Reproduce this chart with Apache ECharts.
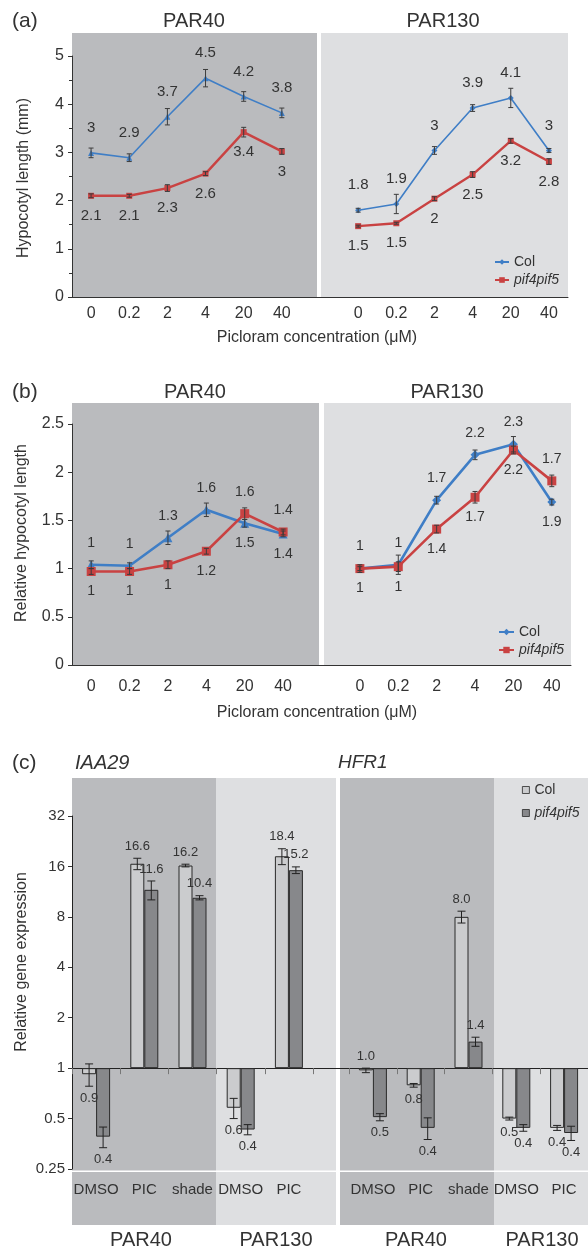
<!DOCTYPE html>
<html>
<head>
<meta charset="utf-8">
<title>Picloram response of Col and pif4pif5</title>
<script src="https://cdn.jsdelivr.net/npm/echarts@6/dist/echarts.min.js"></script>
<style>
  html, body { margin: 0; padding: 0; background: #ffffff; }
  #chart { width: 588px; height: 1251px; }
</style>
</head>
<body>
<div id="chart"></div>
<script>
// ---------- data ----------
const doses = ['0', '0.2', '2', '4', '20', '40'];

// (a) hypocotyl length, mm
const lengthColPAR40 = [2.99, 2.89, 3.74, 4.54, 4.16, 3.82];
const lengthColPAR130 = [1.80, 1.93, 3.04, 3.92, 4.13, 3.04];
const lengthPifPAR40 = [2.10, 2.10, 2.26, 2.56, 3.42, 3.02];
const lengthPifPAR130 = [1.47, 1.53, 2.04, 2.54, 3.24, 2.81];
const lengthColErrPAR40 = [0.10, 0.08, 0.17, 0.18, 0.10, 0.10];
const lengthColErrPAR130 = [0.04, 0.20, 0.08, 0.07, 0.20, 0.04];
const lengthPifErrPAR40 = [0.04, 0.03, 0.07, 0.04, 0.10, 0.06];
const lengthPifErrPAR130 = [0.02, 0.02, 0.04, 0.06, 0.05, 0.06];

// (b) hypocotyl length relative to the untreated seedlings
const relColPAR40 = [1.04, 1.03, 1.32, 1.61, 1.47, 1.36];
const relColPAR130 = [1.00, 1.04, 1.71, 2.18, 2.29, 1.69];
const relPifPAR40 = [0.97, 0.97, 1.04, 1.18, 1.57, 1.38];
const relPifPAR130 = [1.00, 1.02, 1.41, 1.74, 2.23, 1.91];
const relColErrPAR40 = [0.04, 0.03, 0.07, 0.07, 0.04, 0.03];
const relColErrPAR130 = [0.02, 0.10, 0.04, 0.05, 0.08, 0.03];
const relPifErrPAR40 = [0.03, 0.03, 0.04, 0.03, 0.06, 0.03];
const relPifErrPAR130 = [0.04, 0.05, 0.04, 0.06, 0.04, 0.06];

// (c) relative gene expression (PAR40: DMSO, PIC, shade | PAR130: DMSO, PIC)
const treatments = ['DMSO', 'PIC', 'shade', 'DMSO', 'PIC'];
const iaa29Col = [0.92, 16.6, 16.2, 0.58, 18.4];
const iaa29Pif = [0.39, 11.6, 10.4, 0.43, 15.2];
const iaa29ColErr = [0.14, 1.3, 0.3, 0.08, 2.0];
const iaa29PifErr = [0.055, 1.5, 0.3, 0.03, 0.7];
const hfr1Col = [0.97, 0.79, 8.0, 0.50, 0.44];
const hfr1Pif = [0.51, 0.44, 1.44, 0.44, 0.41];
const hfr1ColErr = [0.03, 0.02, 0.65, 0.01, 0.015];
const hfr1PifErr = [0.025, 0.065, 0.09, 0.02, 0.04];
const expressionTicks = [0.25, 0.5, 1, 2, 4, 8, 16, 32];

// ---------- styling ----------
const FONT = '"Liberation Sans", Arial, Helvetica, sans-serif';
const INK = '#333333';
const BLUE = '#3f7ec6';
const RED = '#c94242';
const DARK_BG = '#babbbe';
const LIGHT_BG = '#dedfe1';
const BAR_COL = '#cbccce';
const BAR_PIF = '#87888b';
const BAR_W = 14;

// ---------- helpers ----------
const slotCats = [...doses, '', ...doses];          // PAR40 | gap | PAR130
const PAR130_START = doses.length + 1;
const fmtShort = v => String(Number(v.toFixed(1)));

function slots(a40, a130, decorate40) {
  return [...a40.map(v => decorate40 ? decorate40(v) : v), null, ...a130];
}

function errorData(a40, e40, a130, e130) {
  const out = [];
  a40.forEach((v, i) => out.push([i, v - e40[i], v + e40[i]]));
  a130.forEach((v, i) => out.push([PAR130_START + i, v - e130[i], v + e130[i]]));
  return out;
}

// 'higher': the upper point of a pair carries its label above, the lower one below.
// 'fixed' : Col is labelled above the pair, pif4pif5 below it.
function labelData(col40, pif40, col130, pif130, rules) {
  const out = [];
  [[col40, pif40, 0, rules[0]], [col130, pif130, PAR130_START, rules[1]]].forEach(([c, p, off, rule]) => {
    c.forEach((cv, i) => {
      const pv = p[i];
      const colUp = rule === 'fixed' ? true : cv >= pv;
      const hi = Math.max(cv, pv), lo = Math.min(cv, pv);
      out.push([off + i, colUp ? hi : lo, cv, colUp ? 1 : -1]);
      out.push([off + i, colUp ? lo : hi, pv, colUp ? -1 : 1]);
    });
  });
  return out;
}

function renderLineError(params, api) {
  const x = api.value(0);
  const lo = api.coord([x, api.value(1)]);
  const hi = api.coord([x, api.value(2)]);
  const cap = 2.5;
  const st = { stroke: '#3c3c3c', lineWidth: 1 };
  return {
    type: 'group',
    children: [
      { type: 'line', shape: { x1: lo[0], y1: lo[1], x2: hi[0], y2: hi[1] }, style: st },
      { type: 'line', shape: { x1: lo[0] - cap, y1: lo[1], x2: lo[0] + cap, y2: lo[1] }, style: st },
      { type: 'line', shape: { x1: hi[0] - cap, y1: hi[1], x2: hi[0] + cap, y2: hi[1] }, style: st }
    ]
  };
}

function pointLabelRenderer(fontSize, up, down) {
  return function (params, api) {
    const p = api.coord([api.value(0), api.value(1)]);
    const side = api.value(3);
    return {
      type: 'text',
      x: p[0],
      y: p[1] + (side > 0 ? -up : down),
      style: {
        text: fmtShort(api.value(2)),
        fill: INK,
        font: fontSize + 'px ' + FONT,
        align: 'center', verticalAlign: 'middle',
        textAlign: 'center', textVerticalAlign: 'middle'
      }
    };
  };
}

// error bar + value text for grouped bars on the log2 expression scale
function barErrorRenderer(slot) {
  return function (params, api) {
    const cat = api.value(0);
    const base = api.coord([cat, 0]);
    let offset = slot === 0 ? -BAR_W / 2 : BAR_W / 2;
    if (api.barLayout) {
      const lay = api.barLayout({ count: 2, barWidth: BAR_W, barGap: '0%' });
      if (lay && lay[slot] && isFinite(lay[slot].offsetCenter)) offset = lay[slot].offsetCenter;
    }
    const x = base[0] + offset;
    const yLo = api.coord([cat, api.value(1)])[1];
    const yHi = api.coord([cat, api.value(2)])[1];
    const v = api.value(3);
    const text = v.toFixed(1);
    const up = Number(text) >= 1;
    const ty = up ? Math.min(yHi, base[1]) - 12 : Math.max(yLo, base[1]) + 12;
    const cap = 4;
    const st = { stroke: '#222222', lineWidth: 1 };
    return {
      type: 'group',
      children: [
        { type: 'line', shape: { x1: x, y1: yLo, x2: x, y2: yHi }, style: st },
        { type: 'line', shape: { x1: x - cap, y1: yLo, x2: x + cap, y2: yLo }, style: st },
        { type: 'line', shape: { x1: x - cap, y1: yHi, x2: x + cap, y2: yHi }, style: st },
        {
          type: 'text', x: x, y: ty, z2: 10,
          style: {
            text, fill: INK, font: '13px ' + FONT,
            align: 'center', verticalAlign: 'middle',
            textAlign: 'center', textVerticalAlign: 'middle'
          }
        }
      ]
    };
  };
}

function barErrData(vals, errs) {
  return vals.map((v, i) => [i, Math.log2(v - errs[i]), Math.log2(v + errs[i]), v]);
}

// ---------- decoration ----------
const bg = (x, y, w, h, fill) => ({ type: 'rect', shape: { x, y, width: w, height: h }, style: { fill }, z: -10, silent: true });
const txt = (text, x, y, size, opt = {}) => ({
  type: 'text', x, y, rotation: opt.rotation || 0, z: 10, silent: true,
  style: {
    text, fill: INK,
    font: (opt.italic ? 'italic ' : '') + size + 'px ' + FONT,
    align: opt.align || 'center', verticalAlign: 'middle',
    textAlign: opt.align || 'center', textVerticalAlign: 'middle'
  }
});

const graphics = [
  // (a)
  bg(72, 33, 245, 264, DARK_BG), bg(321, 33, 247, 264, LIGHT_BG),
  // (b)
  bg(72, 403, 247, 262, DARK_BG), bg(324, 403, 247, 262, LIGHT_BG),
  // (c)
  bg(72, 778, 144, 447, DARK_BG), bg(216, 778, 120, 447, LIGHT_BG),
  bg(340, 778, 154, 447, DARK_BG), bg(494, 778, 94, 447, LIGHT_BG),
  { type: 'rect', shape: { x: 72, y: 1170.5, width: 264, height: 1.5 }, style: { fill: '#ffffff' }, z: -9, silent: true },
  { type: 'rect', shape: { x: 340, y: 1170.5, width: 248, height: 1.5 }, style: { fill: '#ffffff' }, z: -9, silent: true },

  txt('(a)', 12, 21, 21, { align: 'left' }),
  txt('PAR40', 194, 21, 20), txt('PAR130', 443, 21, 20),
  txt('Hypocotyl length (mm)', 24, 178, 16, { rotation: Math.PI / 2 }),
  txt('Picloram concentration (μM)', 317, 338, 16),

  txt('(b)', 12, 392, 21, { align: 'left' }),
  txt('PAR40', 195, 392, 20), txt('PAR130', 447, 392, 20),
  txt('Relative hypocotyl length', 22, 533, 16, { rotation: Math.PI / 2 }),
  txt('Picloram concentration (μM)', 317, 713, 16),

  txt('(c)', 12, 763, 21, { align: 'left' }),
  txt('IAA29', 75, 763, 20, { align: 'left', italic: true }),
  txt('HFR1', 338, 763, 19, { align: 'left', italic: true }),
  txt('Relative gene expression', 22, 962, 16, { rotation: Math.PI / 2 }),
  txt('PAR40', 141, 1240, 20), txt('PAR130', 276, 1240, 20),
  txt('PAR40', 416, 1240, 20), txt('PAR130', 542, 1240, 20)
];

// ---------- axes ----------
const tickLabel = size => ({ fontSize: size, color: INK, fontFamily: FONT });

function doseAxis(gridIndex, margin) {
  return {
    gridIndex, type: 'category', data: slotCats,
    axisLine: { lineStyle: { color: '#333', width: 1 } },
    axisTick: { length: 4, lineStyle: { color: '#555' } },
    axisLabel: Object.assign({ interval: 0, margin }, tickLabel(16)),
    splitLine: { show: false }
  };
}

function valueAxis(gridIndex, max, interval) {
  return {
    gridIndex, type: 'value', min: 0, max, interval,
    axisLine: { show: true, lineStyle: { color: '#333', width: 1 } },
    axisTick: { show: true, length: 4, lineStyle: { color: '#333' } },
    minorTick: { show: gridIndex === 0, splitNumber: 2, length: 3, lineStyle: { color: '#333' } },
    axisLabel: Object.assign({ margin: 8 }, tickLabel(16)),
    splitLine: { show: false }
  };
}

const logMin = Math.log2(expressionTicks[0]);
const logMax = Math.log2(expressionTicks[expressionTicks.length - 1]);

function exprBarAxis(gridIndex) {
  return {
    gridIndex, type: 'category', data: treatments, position: 'bottom',
    axisLine: { show: true, onZero: true, lineStyle: { color: '#222', width: 1 } },
    axisTick: { show: true, length: 6, lineStyle: { color: '#777' } },
    axisLabel: { show: false },
    splitLine: { show: false }
  };
}
function exprLabelAxis(gridIndex) {
  return {
    gridIndex, type: 'category', data: treatments, position: 'bottom',
    axisLine: { show: false, onZero: false },
    axisTick: { show: false },
    axisLabel: Object.assign({ interval: 0, margin: 13 }, tickLabel(15)),
    splitLine: { show: false }
  };
}
function exprValueAxis(gridIndex, show) {
  return {
    gridIndex, type: 'value', min: logMin, max: logMax, interval: 1, show,
    axisLine: { show: true, lineStyle: { color: '#222', width: 1 } },
    axisTick: { show: true, length: 4, lineStyle: { color: '#333' } },
    axisLabel: Object.assign({ margin: 7, formatter: v => String(Math.pow(2, v)) }, tickLabel(15)),
    splitLine: { show: false }
  };
}

// ---------- series ----------
const tri = v => ({ value: v, symbol: 'triangle' });

function lineSeries(name, axis, data, color, width, symbol, size, z) {
  return {
    name, type: 'line', xAxisIndex: axis, yAxisIndex: axis, data,
    symbol, symbolSize: size, showSymbol: true, connectNulls: false,
    lineStyle: { color, width }, itemStyle: { color },
    z, animation: false, label: { show: false }
  };
}
function errSeries(axis, data) {
  return {
    type: 'custom', xAxisIndex: axis, yAxisIndex: axis, renderItem: renderLineError,
    data, encode: { x: 0, y: [1, 2] }, z: 4, silent: true, animation: false
  };
}
function lblSeries(axis, data, size, up, down) {
  return {
    type: 'custom', xAxisIndex: axis, yAxisIndex: axis, renderItem: pointLabelRenderer(size, up, down),
    data, encode: { x: 0, y: 1 }, z: 6, silent: true, animation: false
  };
}
function barSeries(name, xAxis, yAxis, vals, color) {
  return {
    name, type: 'bar', xAxisIndex: xAxis, yAxisIndex: yAxis,
    data: vals.map(v => Math.log2(v)), barWidth: BAR_W, barGap: '0%',
    itemStyle: { color, borderColor: '#2a2a2a', borderWidth: 1 },
    z: 3, animation: false
  };
}
function barErrSeries(xAxis, yAxis, vals, errs, slot) {
  return {
    type: 'custom', xAxisIndex: xAxis, yAxisIndex: yAxis, renderItem: barErrorRenderer(slot),
    data: barErrData(vals, errs), encode: { x: 0, y: [1, 2] }, z: 5, silent: true, animation: false
  };
}

const series = [
  // (a)
  lineSeries('Col|a', 0, slots(lengthColPAR40, lengthColPAR130, tri), BLUE, 1.6, 'diamond', 6, 3),
  lineSeries('pif4pif5|a', 0, slots(lengthPifPAR40, lengthPifPAR130), RED, 2.4, 'rect', 6, 3),
  errSeries(0, errorData(lengthColPAR40, lengthColErrPAR40, lengthColPAR130, lengthColErrPAR130)),
  errSeries(0, errorData(lengthPifPAR40, lengthPifErrPAR40, lengthPifPAR130, lengthPifErrPAR130)),
  lblSeries(0, labelData(lengthColPAR40, lengthPifPAR40, lengthColPAR130, lengthPifPAR130, ['fixed', 'fixed']), 15, 25, 20),

  // (b)
  lineSeries('Col|b', 1, slots(relColPAR40, relColPAR130, tri), BLUE, 2.6, 'diamond', 9, 3),
  lineSeries('pif4pif5|b', 1, slots(relPifPAR40, relPifPAR130), RED, 2.6, 'rect', 9, 3),
  errSeries(1, errorData(relColPAR40, relColErrPAR40, relColPAR130, relColErrPAR130)),
  errSeries(1, errorData(relPifPAR40, relPifErrPAR40, relPifPAR130, relPifErrPAR130)),
  lblSeries(1, labelData(relColPAR40, relPifPAR40, relColPAR130, relPifPAR130, ['higher', 'fixed']), 14, 22, 20),

  // (c) IAA29
  barSeries('Col|c', 2, 2, iaa29Col, BAR_COL),
  barSeries('pif4pif5|c', 2, 2, iaa29Pif, BAR_PIF),
  barErrSeries(2, 2, iaa29Col, iaa29ColErr, 0),
  barErrSeries(2, 2, iaa29Pif, iaa29PifErr, 1),
  // (c) HFR1
  barSeries('Col|c', 4, 3, hfr1Col, BAR_COL),
  barSeries('pif4pif5|c', 4, 3, hfr1Pif, BAR_PIF),
  barErrSeries(4, 3, hfr1Col, hfr1ColErr, 0),
  barErrSeries(4, 3, hfr1Pif, hfr1PifErr, 1)
];

function legend(left, top, names, opts) {
  return Object.assign({
    left, top, orient: 'vertical', padding: 0, selectedMode: false,
    formatter: n => n.split('|')[0],
    textStyle: { fontSize: 14, color: INK, fontFamily: FONT },
    data: [{ name: names[0] }, { name: names[1], textStyle: { fontStyle: 'italic' } }]
  }, opts);
}

const option = {
  animation: false,
  backgroundColor: '#ffffff',
  textStyle: { fontFamily: FONT },
  grid: [
    { left: 72, right: 20, top: 56, bottom: 954 },
    { left: 72, right: 17, top: 424, bottom: 586 },
    { left: 72, width: 241, top: 816, bottom: 82 },
    { left: 349, width: 241, top: 816, bottom: 82 },
    { left: 72, right: 0, top: 816, bottom: 82 }
  ],
  xAxis: [
    doseAxis(0, 9),
    doseAxis(1, 14),
    exprBarAxis(2),
    exprLabelAxis(2),
    exprBarAxis(3),
    exprLabelAxis(3),
    {
      // baseline at expression 1, running across both expression panels
      gridIndex: 4, type: 'value', min: 0, max: 1,
      axisLine: { show: true, onZero: true, lineStyle: { color: '#222', width: 1 } },
      axisTick: { show: false }, axisLabel: { show: false }, splitLine: { show: false }
    }
  ],
  yAxis: [
    valueAxis(0, 5, 1),
    valueAxis(1, 2.5, 0.5),
    exprValueAxis(2, true),
    exprValueAxis(3, false),
    exprValueAxis(4, false)
  ],
  legend: [
    legend(494, 255, ['Col|a', 'pif4pif5|a'], { itemWidth: 14, itemHeight: 7, itemGap: 4 }),
    legend(498, 625, ['Col|b', 'pif4pif5|b'], { itemWidth: 15, itemHeight: 8, itemGap: 4 }),
    legend(522, 783, ['Col|c', 'pif4pif5|c'], {
      icon: 'rect', itemWidth: 7, itemHeight: 7, itemGap: 9,
      itemStyle: { borderWidth: 0.8, borderColor: '#2a2a2a' }
    })
  ],
  graphic: { elements: graphics },
  series
};

const chart = echarts.init(document.getElementById('chart'));
chart.setOption(option);
</script>
</body>
</html>
